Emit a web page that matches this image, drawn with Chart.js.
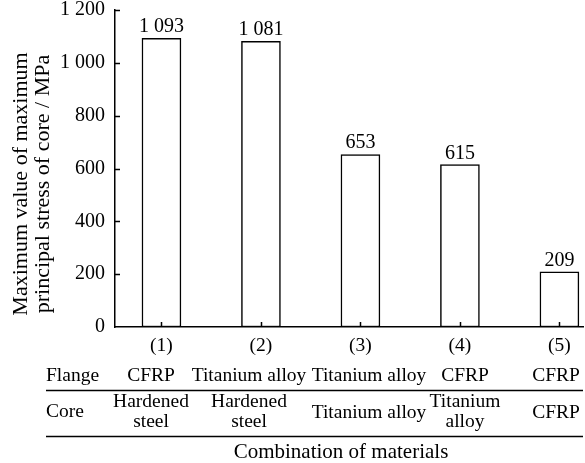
<!DOCTYPE html>
<html>
<head>
<meta charset="utf-8">
<script src="https://cdn.jsdelivr.net/npm/chart.js@4"></script>
<style>
  html, body { margin: 0; padding: 0; background: #fff; }
  #wrap { width: 585px; height: 463px; position: relative; }
</style>
</head>
<body>
<div id="wrap"><canvas id="chart" width="585" height="463"></canvas></div>
<script>
const cases = ['(1)', '(2)', '(3)', '(4)', '(5)'];
const stress = [1093, 1081, 653, 615, 209];
const flange = ['CFRP', 'Titanium alloy', 'Titanium alloy', 'CFRP', 'CFRP'];
const core = [['Hardened', 'steel'], ['Hardened', 'steel'], ['Titanium alloy'], ['Titanium', 'alloy'], ['CFRP']];
const yTicks = [0, 200, 400, 600, 800, 1000, 1200];
const rowNames = ['Flange', 'Core'];
const xTitle = 'Combination of materials';
const yTitle = ['Maximum value of maximum', 'principal stress of core / MPa'];

const FONT = '"Liberation Serif", "Times New Roman", serif';
const fmt = v => String(v).replace(/\B(?=(\d{3})+(?!\d))/g, ' ');

// table columns are not quite under the bars in the original
const TABLE_COLS = [151, 249, 369, 465, 556];

// inward ticks, bar value labels, y title and the material table under the axis
const extras = {
  id: 'extras',
  afterDatasetsDraw(chart) {
    const { ctx, chartArea: a, scales: { x, y } } = chart;
    ctx.save();
    ctx.strokeStyle = '#000';
    ctx.lineWidth = 1.5;
    ctx.beginPath();
    yTicks.slice(1).forEach(v => {
      const py = Math.round(y.getPixelForValue(v)) + 0.5;
      ctx.moveTo(a.left, py);
      ctx.lineTo(a.left + 5, py);
    });
    stress.forEach((_, i) => {
      const px = Math.round(x.getPixelForValue(i + 1)) + 0.5;
      ctx.moveTo(px, a.bottom);
      ctx.lineTo(px, a.bottom - 5);
    });
    ctx.stroke();

    ctx.fillStyle = '#000';
    ctx.font = '20px ' + FONT;
    ctx.textAlign = 'center';
    ctx.textBaseline = 'alphabetic';
    const meta = chart.getDatasetMeta(0);
    meta.data.forEach((bar, i) => {
      ctx.fillText(fmt(stress[i]), bar.x, bar.y - 6);
    });

    // y title
    ctx.save();
    ctx.translate(21, 184);
    ctx.rotate(-Math.PI / 2);
    ctx.font = '22px ' + FONT;
    ctx.textBaseline = 'middle';
    ctx.fillText(yTitle[0], 0, 0);
    ctx.fillText(yTitle[1], 0, 22);
    ctx.restore();

    // table
    const tLeft = 46, tRight = a.right;
    ctx.textBaseline = 'middle';
    ctx.font = '19.5px ' + FONT;
    cases.forEach((c, i) => {
      ctx.fillText(c, x.getPixelForValue(i + 1), 346);
      const px = TABLE_COLS[i];
      ctx.fillText(flange[i], px, 376);
      if (core[i].length === 2) {
        ctx.fillText(core[i][0], px, 402);
        ctx.fillText(core[i][1], px, 422);
      } else {
        ctx.fillText(core[i][0], px, 413);
      }
    });
    ctx.textAlign = 'left';
    ctx.fillText(rowNames[0], tLeft, 376);
    ctx.fillText(rowNames[1], tLeft, 412);
    ctx.textAlign = 'center';
    ctx.font = '21px ' + FONT;
    ctx.fillText(xTitle, 341, 452);

    ctx.beginPath();
    ctx.moveTo(tLeft, 390.5); ctx.lineTo(tRight, 390.5);
    ctx.moveTo(tLeft, 436.5); ctx.lineTo(tRight, 436.5);
    ctx.stroke();
    ctx.restore();
  }
};

new Chart(document.getElementById('chart'), {
  type: 'bar',
  data: {
    datasets: [{
      data: stress.map((v, i) => ({ x: i + 1, y: v })),
      backgroundColor: '#fff',
      borderColor: '#000',
      borderWidth: 1.5,
      borderSkipped: false,
      barThickness: 39
    }]
  },
  plugins: [extras],
  options: {
    responsive: false,
    animation: false,
    layout: { padding: { top: 10, right: 2, bottom: 136, left: 0 } },
    plugins: { legend: { display: false }, tooltip: { enabled: false } },
    scales: {
      x: {
        type: 'linear',
        offset: false,
        min: 0.533,
        max: 5.237,
        grid: { display: false, drawTicks: false },
        border: { color: '#000', width: 1.5 },
        ticks: { display: false },
        afterFit: s => { s.height = 0; s.paddingLeft = 0; s.paddingRight = 0; }
      },
      y: {
        min: 0,
        max: 1200,
        afterBuildTicks: s => { s.ticks = yTicks.map(v => ({ value: v })); },
        grid: { display: false, drawTicks: false },
        border: { color: '#000', width: 1.5 },
        ticks: {
          color: '#000',
          padding: 10,
          font: { family: FONT, size: 20 },
          callback: v => fmt(v)
        },
        afterFit: s => { s.width = 115; s.paddingTop = 0; s.paddingBottom = 0; }
      }
    }
  }
});
</script>
</body>
</html>
